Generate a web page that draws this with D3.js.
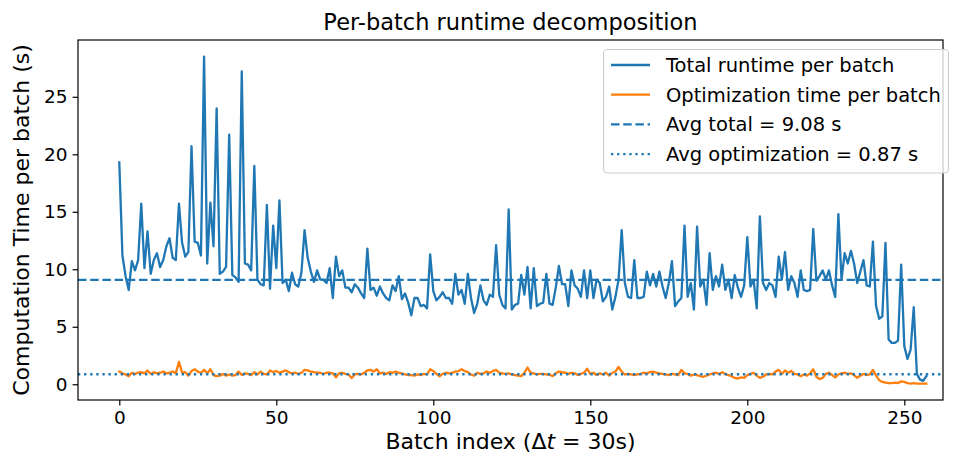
<!DOCTYPE html>
<html>
<head>
<meta charset="utf-8">
<script src="https://cdn.jsdelivr.net/npm/d3@7/dist/d3.min.js"></script>
<style>
  html, body { margin: 0; padding: 0; background: #ffffff; }
  svg { display: block; font-family: "DejaVu Sans", sans-serif; }
</style>
</head>
<body>
<svg id="chart" width="957" height="459"></svg>
<script>
// Total runtime per batch (seconds), one value per batch index
const totalRuntime = [
  19.3, 11.2, 9.4, 8.2, 10.7, 9.9, 10.8, 15.7, 10.1, 13.3,
  9.6, 10.8, 11.4, 10.2, 10.8, 12.0, 12.7, 11.0, 10.8, 15.7,
  12.3, 11.1, 11.5, 20.7, 12.4, 12.3, 11.2, 28.5, 10.5, 15.8,
  12.0, 24.0, 9.6, 9.8, 10.2, 21.7, 9.5, 9.3, 8.9, 27.2,
  10.5, 10.4, 9.9, 19.0, 9.1, 8.7, 8.6, 15.6, 8.3, 13.8,
  10.1, 16.0, 8.8, 9.1, 8.1, 9.7, 8.7, 8.5, 9.7, 13.4,
  11.0, 9.8, 8.9, 9.9, 9.1, 9.1, 8.8, 10.1, 7.5, 11.1,
  9.4, 9.9, 8.4, 8.4, 8.0, 8.7, 8.4, 7.9, 7.5, 11.8,
  8.2, 8.4, 7.7, 8.5, 7.9, 7.5, 7.3, 8.6, 8.1, 9.4,
  7.4, 7.9, 7.1, 6.0, 7.5, 7.5, 6.8, 6.9, 6.6, 11.3,
  8.1, 7.3, 7.6, 8.0, 7.5, 7.5, 7.0, 9.6, 7.8, 8.2,
  7.0, 9.6, 7.5, 6.2, 7.0, 8.6, 7.3, 6.9, 7.8, 7.6,
  12.1, 7.8, 6.9, 6.6, 15.2, 6.5, 6.9, 7.0, 9.5, 7.8,
  10.2, 6.6, 10.1, 6.8, 7.0, 7.1, 9.6, 7.0, 6.9, 8.4,
  10.3, 8.7, 8.7, 6.8, 9.9, 8.6, 8.3, 7.6, 9.9, 7.5,
  9.9, 7.5, 9.1, 8.8, 7.2, 7.6, 8.5, 6.5, 7.6, 9.1,
  13.4, 8.8, 7.6, 7.5, 10.8, 7.5, 7.5, 7.6, 9.8, 8.6,
  9.6, 8.5, 9.8, 8.5, 7.5, 8.8, 10.7, 6.8, 7.2, 7.5,
  13.8, 7.6, 8.8, 6.5, 13.7, 8.5, 9.1, 6.9, 11.4, 8.2,
  9.4, 8.5, 10.4, 8.2, 9.1, 7.5, 9.5, 8.4, 7.6, 8.6,
  12.8, 8.5, 9.1, 6.6, 14.6, 8.8, 8.2, 8.8, 8.6, 7.6,
  11.1, 9.1, 11.5, 8.2, 9.4, 8.8, 7.6, 9.9, 8.2, 8.1,
  8.2, 13.5, 9.0, 9.4, 9.9, 9.1, 9.9, 8.6, 7.6, 14.8,
  9.1, 11.4, 10.5, 11.6, 10.5, 8.8, 9.8, 10.8, 8.6, 8.5,
  12.4, 6.8, 5.7, 5.9, 12.3, 3.9, 3.6, 3.6, 3.8, 10.4,
  3.3, 2.2, 3.0, 6.7, 0.9, 0.4, 0.3, 0.7
];

// Optimization time per batch (seconds)
const optimizationTime = [
  1.1, 0.95, 0.85, 0.7, 1.0, 0.9, 1.0, 1.05, 0.95, 1.2,
  0.9, 1.05, 0.95, 1.0, 1.1, 0.95, 1.0, 1.1, 0.95, 1.95,
  1.0, 1.05, 0.75, 1.15, 1.3, 1.1, 1.0, 1.25, 0.95, 1.3,
  0.8, 0.7, 0.75, 0.9, 0.75, 0.85, 0.75, 0.8, 1.1, 0.8,
  0.95, 0.9, 0.8, 1.05, 0.85, 1.1, 0.9, 0.85, 1.2, 1.05,
  1.15, 1.0, 1.1, 1.2, 1.05, 0.95, 1.0, 0.9, 1.0, 1.25,
  1.2, 1.1, 1.05, 1.0, 1.0, 0.9, 1.0, 1.0, 0.95, 0.6,
  0.95, 1.0, 0.9, 0.85, 0.55, 0.85, 0.9, 0.85, 1.0, 1.2,
  1.25, 1.1, 1.3, 0.95, 1.0, 0.9, 1.05, 1.0, 1.1, 1.0,
  0.95, 0.85, 0.8, 0.8, 0.75, 0.85, 0.8, 0.9, 0.85, 1.3,
  1.15, 0.9, 0.7, 0.9, 1.0, 0.95, 1.0, 1.1, 1.15, 1.3,
  1.15, 1.05, 0.85, 0.75, 1.0, 0.9, 0.95, 1.1, 1.0, 1.15,
  1.25, 1.0, 0.95, 0.9, 0.95, 0.85, 0.8, 0.75, 0.7, 1.0,
  1.45, 1.0, 0.95, 0.85, 0.9, 0.9, 0.85, 0.85, 0.7, 0.95,
  1.1, 1.05, 1.0, 0.9, 1.0, 0.95, 0.8, 0.9, 1.0, 1.35,
  0.9, 1.0, 0.8, 0.95, 0.85, 1.0, 0.75, 1.0, 1.1, 1.5,
  1.1, 0.85, 0.9, 0.85, 0.8, 0.85, 0.9, 1.0, 0.95, 1.05,
  1.1, 1.0, 0.95, 0.9, 0.85, 0.8, 0.9, 0.85, 0.8, 1.25,
  0.95, 0.9, 0.75, 0.85, 0.8, 0.7, 0.65, 0.75, 0.85, 0.95,
  1.0, 0.9, 1.05, 0.9, 0.8, 0.7, 0.55, 0.5, 0.6, 0.55,
  0.8, 0.9, 1.0, 0.75, 0.55, 0.65, 0.85, 0.9, 0.85, 1.1,
  1.25, 0.9, 1.2, 1.0, 1.15, 0.9, 0.85, 0.7, 0.85, 0.75,
  0.95, 1.3, 0.65, 0.45, 0.55, 0.9, 1.0, 0.8, 0.6, 0.85,
  0.95, 1.0, 0.9, 0.95, 0.8, 0.55, 0.75, 0.9, 0.8, 0.85,
  1.25, 0.75, 0.35, 0.2, 0.15, 0.1, 0.1, 0.15, 0.1, 0.25,
  0.2, 0.1, 0.05, 0.1, 0.05, 0.05, 0.05, 0.05
];

// Reference averages (seconds)
const avgTotal = 9.08;
const avgOptimization = 0.87;

// Axis ticks
const xTicks = [0, 50, 100, 150, 200, 250];
const yTicks = [0, 5, 10, 15, 20, 25];

// Legend entries
const legendLabels = [
  "Total runtime per batch",
  "Optimization time per batch",
  "Avg total = 9.08 s",
  "Avg optimization = 0.87 s"
];

const BLUE = "#1f77b4";
const ORANGE = "#ff7f0e";
const LINE_W = 2.3;
const DASHED = "8.5,3.7";
const DOTTED = "2.3,3.8";

const plot = { left: 78, right: 943, top: 40, bottom: 400 };

const svg = d3.select("#chart");

const x = d3.scaleLinear()
  .domain([-13.15, 262.32])
  .range([plot.left, plot.right]);

const y = d3.scaleLinear()
  .domain([-1.37, 29.94])
  .range([plot.bottom, plot.top]);

svg.append("rect")
  .attr("width", 957).attr("height", 459).attr("fill", "#ffffff");

svg.append("defs").append("clipPath").attr("id", "plot-clip")
  .append("rect")
  .attr("x", plot.left).attr("y", plot.top)
  .attr("width", plot.right - plot.left)
  .attr("height", plot.bottom - plot.top);

const body = svg.append("g").attr("clip-path", "url(#plot-clip)");

const line = d3.line()
  .x((d, i) => x(i))
  .y(d => y(d));

body.append("path")
  .datum(totalRuntime)
  .attr("d", line)
  .attr("fill", "none")
  .attr("stroke", BLUE)
  .attr("stroke-width", LINE_W)
  .attr("stroke-linejoin", "round")
  .attr("stroke-linecap", "square");

body.append("path")
  .datum(optimizationTime)
  .attr("d", line)
  .attr("fill", "none")
  .attr("stroke", ORANGE)
  .attr("stroke-width", LINE_W)
  .attr("stroke-linejoin", "round")
  .attr("stroke-linecap", "square");

// Horizontal average lines spanning the full axis width
const avgLines = [
  { value: avgTotal, dash: DASHED },
  { value: avgOptimization, dash: DOTTED }
];

body.selectAll("line.avg")
  .data(avgLines)
  .join("line")
  .attr("class", "avg")
  .attr("x1", plot.left).attr("x2", plot.right)
  .attr("y1", d => y(d.value)).attr("y2", d => y(d.value))
  .attr("stroke", BLUE)
  .attr("stroke-width", LINE_W)
  .attr("stroke-dasharray", d => d.dash);

// Axes
const xAxis = svg.append("g")
  .attr("transform", `translate(0,${plot.bottom})`)
  .call(d3.axisBottom(x).tickValues(xTicks).tickSize(5.4).tickPadding(5).tickFormat(d3.format("d")));

const yAxis = svg.append("g")
  .attr("transform", `translate(${plot.left},0)`)
  .call(d3.axisLeft(y).tickValues(yTicks).tickSize(5.4).tickPadding(5).tickFormat(d3.format("d")));

[xAxis, yAxis].forEach(g => {
  g.select(".domain").remove();
  g.selectAll(".tick line").attr("stroke", "#000").attr("stroke-width", 1.2);
  g.selectAll(".tick text")
    .attr("fill", "#000")
    .style("font-family", "'DejaVu Sans', sans-serif")
    .style("font-size", "18.5px");
});

// Frame around the plotting area
svg.append("rect")
  .attr("x", plot.left).attr("y", plot.top)
  .attr("width", plot.right - plot.left)
  .attr("height", plot.bottom - plot.top)
  .attr("fill", "none")
  .attr("stroke", "#000")
  .attr("stroke-width", 1.2);

// Title and axis labels
svg.append("text")
  .attr("x", (plot.left + plot.right) / 2)
  .attr("y", 30)
  .attr("text-anchor", "middle")
  .style("font-size", "22.5px")
  .attr("fill", "#000")
  .text("Per-batch runtime decomposition");

const xl = svg.append("text")
  .attr("x", (plot.left + plot.right) / 2)
  .attr("y", 449)
  .attr("text-anchor", "middle")
  .style("font-size", "22px")
  .attr("fill", "#000");
xl.append("tspan").text("Batch index (Δ");
xl.append("tspan").attr("font-style", "italic").text("t");
xl.append("tspan").text(" = 30s)");

svg.append("text")
  .attr("transform", `translate(29,${(plot.top + plot.bottom) / 2}) rotate(-90)`)
  .attr("text-anchor", "middle")
  .style("font-size", "22px")
  .attr("fill", "#000")
  .text("Computation Time per batch (s)");

// Legend in the upper-right corner
const legend = { x: 603.5, y: 49.5, w: 345, h: 123.5, rowY0: 65, rowStep: 29.7 };
const lg = svg.append("g");
lg.append("rect")
  .attr("x", legend.x).attr("y", legend.y)
  .attr("width", legend.w).attr("height", legend.h)
  .attr("rx", 4).attr("ry", 4)
  .attr("fill", "#ffffff").attr("fill-opacity", 0.8)
  .attr("stroke", "#cccccc").attr("stroke-width", 1.1);

const legendStyles = [
  { color: BLUE, dash: null },
  { color: ORANGE, dash: null },
  { color: BLUE, dash: DASHED },
  { color: BLUE, dash: DOTTED }
];

const rows = lg.selectAll("g.row")
  .data(legendLabels)
  .join("g")
  .attr("class", "row")
  .attr("transform", (d, i) => `translate(0,${legend.rowY0 + i * legend.rowStep})`);

rows.append("line")
  .attr("x1", 611).attr("x2", 650)
  .attr("y1", 0).attr("y2", 0)
  .attr("stroke", (d, i) => legendStyles[i].color)
  .attr("stroke-width", LINE_W)
  .attr("stroke-dasharray", (d, i) => legendStyles[i].dash);

rows.append("text")
  .attr("x", 666)
  .attr("y", 7)
  .style("font-size", "19.5px")
  .attr("fill", "#000")
  .text(d => d);
</script>
</body>
</html>
